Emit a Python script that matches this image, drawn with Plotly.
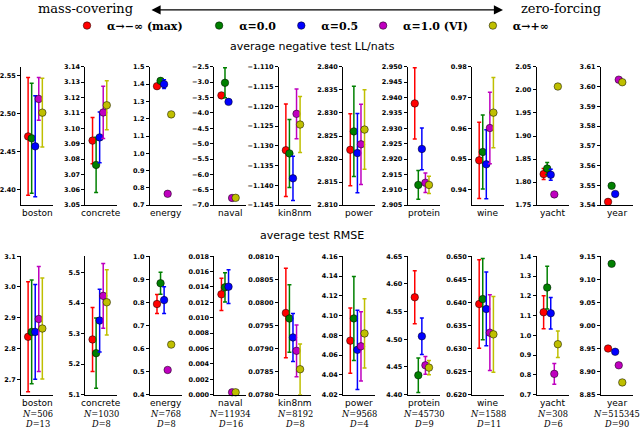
import plotly.graph_objects as go

# dataset info
datasets = ["boston", "concrete", "energy", "naval", "kin8nm",
            "power", "protein", "wine", "yacht", "year"]
n_points = [506, 1030, 768, 11934, 8192, 9568, 45730, 1588, 308, 515345]
d_dims = [13, 8, 8, 16, 8, 4, 9, 11, 6, 90]

series_names = ["α→−∞ (max)\u00a0\u00a0\u00a0", "α=0.0", "α=0.5", "α=1.0 (VI)", "α→+∞"]
colors = ["#ff0000", "#008000", "#0000ff", "#bf00bf", "#bfbf00"]

# average negative test LL (mean, error) per alpha
nll_max = [2.470, 3.092, 1.388, -3.43, -1.1311, 2.8220, 2.9381, 0.9496, 1.8175, 3.5417]
nll_max_err = [0.077, 0.015, 0.01, 0.05, 0.0117, 0.0078, 0.0116, 0.0124, 0.012, 0]
nll_a0 = [2.4675, 3.0762, 1.4187, -3.02, -1.1319, 2.8260, 2.9116, 0.9523, 1.8296, 3.5498]
nll_a0_err = [0.072, 0.018, 0.012, 0.49, 0.0086, 0.0098, 0.0047, 0.012, 0.013, 0]
nll_a05 = [2.457, 3.0941, 1.3996, -3.64, -1.1382, 2.8213, 2.9233, 0.9483, 1.816, 3.5457]
nll_a05_err = [0.066, 0.0165, 0.025, 0.05, 0.0056, 0.0086, 0.0068, 0.0112, 0.012, 0]
nll_a1 = [2.519, 3.1103, 0.766, -6.765, -1.1219, 2.8232, 2.9123, 0.9601, 1.7734, 3.6035]
nll_a1_err = [0.028, 0.017, 0, 0, 0.0063, 0.0087, 0.0032, 0.0116, 0, 0]
nll_ainf = [2.501, 3.115, 1.225, -6.76, -1.1246, 2.8264, 2.9116, 0.9651, 2.0073, 3.6022]
nll_ainf_err = [0.045, 0.016, 0, 0, 0.0071, 0.0086, 0.0028, 0.0114, 0, 0]

# average test RMSE (mean, error) per alpha
rmse_max = [2.838, 5.281, 0.793, 0.01305, 0.07977, 4.0746, 4.5759, 0.63964, 1.1167, 8.950]
rmse_max_err = [0.179, 0.105, 0.041, 0.0021, 0.00097, 0.033, 0.048, 0.0096, 0.083, 0]
rmse_a0 = [2.854, 5.236, 0.883, 0.01396, 0.07965, 4.0971, 4.435, 0.64071, 1.2417, 9.1336]
rmse_a0_err = [0.169, 0.115, 0.048, 0.0019, 0.00073, 0.0425, 0.031, 0.0088, 0.108, 0]
rmse_a05 = [2.854, 5.343, 0.810, 0.01404, 0.07924, 4.0653, 4.5054, 0.63857, 1.1117, 8.9429]
rmse_a05_err = [0.154, 0.103, 0.058, 0.0022, 0.00052, 0.040, 0.033, 0.008, 0.080, 0]
rmse_a1 = [2.896, 5.424, 0.507, 0.0003, 0.07895, 4.0689, 4.453, 0.63343, 0.805, 8.9136]
rmse_a1_err = [0.171, 0.106, 0, 0, 0.00056, 0.035, 0.016, 0.0082, 0.0525, 0]
rmse_ainf = [2.865, 5.403, 0.617, 0.0003, 0.07855, 4.0819, 4.4488, 0.63307, 0.955, 8.8764]
rmse_ainf_err = [0.164, 0.107, 0, 0, 0.00055, 0.035, 0.013, 0.0082, 0.067, 0]

# axis settings
nll_ranges = [[2.38, 2.561], [3.05, 3.14], [0.7, 1.5], [-7.0, -2.5], [-1.145, -1.110],
              [2.810, 2.840], [2.905, 2.950], [0.935, 0.98], [1.75, 2.05], [3.54, 3.61]]
nll_dticks = [0.05, 0.01, 0.1, 0.5, 0.005, 0.005, 0.005, 0.01, 0.05, 0.01]
nll_formats = [".2f", ".2f", ".1f", ".1f", ".3f", ".3f", ".3f", ".2f", ".2f", ".2f"]
rmse_ranges = [[2.65, 3.1], [5.1, 5.554], [0.4, 1.0], [0, 0.018], [0.078, 0.081],
               [4.02, 4.16], [4.40, 4.65], [0.62, 0.65], [0.7, 1.4], [8.85, 9.15]]
rmse_dticks = [0.1, 0.1, 0.1, 0.002, 0.0005, 0.02, 0.05, 0.005, 0.1, 0.05]
rmse_formats = [".1f", ".1f", ".1f", ".3f", ".4f", ".2f", ".2f", ".3f", ".1f", ".2f"]

nll_means = [nll_max, nll_a0, nll_a05, nll_a1, nll_ainf]
nll_errs = [nll_max_err, nll_a0_err, nll_a05_err, nll_a1_err, nll_ainf_err]
rmse_means = [rmse_max, rmse_a0, rmse_a05, rmse_a1, rmse_ainf]
rmse_errs = [rmse_max_err, rmse_a0_err, rmse_a05_err, rmse_a1_err, rmse_ainf_err]

W, H = 640, 432
fig = go.Figure()
layout = {}

rows = [
    (nll_means, nll_errs, nll_ranges, nll_dticks, nll_formats, 64, 205),
    (rmse_means, rmse_errs, rmse_ranges, rmse_dticks, rmse_formats, 257, 398),
]

for r, (means, errs, ranges, dticks, fmts, top, bot) in enumerate(rows):
    for i in range(10):
        n = r * 10 + i + 1
        xname = "x" if n == 1 else f"x{n}"
        yname = "y" if n == 1 else f"y{n}"
        left = 21 + 64.44 * i
        for s in range(5):
            fig.add_trace(go.Scatter(
                x=[s], y=[means[s][i]],
                xaxis=xname, yaxis=yname,
                mode="markers",
                name=series_names[s],
                legendgroup=series_names[s],
                showlegend=(n == 1),
                cliponaxis=False,
                marker=dict(color=colors[s], size=7.5,
                            line=dict(color="black", width=0.5)),
                error_y=dict(type="data", array=[errs[s][i]],
                             visible=errs[s][i] > 0,
                             color=colors[s], thickness=1.5, width=2),
            ))
        span = ranges[i][1] - ranges[i][0]
        layout["xaxis" if n == 1 else f"xaxis{n}"] = dict(
            domain=[left / W, (left + 32) / W], anchor=yname,
            range=[-2, 7], showgrid=False, zeroline=False,
            showticklabels=False, ticks="", showline=True,
            linecolor="black", linewidth=1,
        )
        layout["yaxis" if n == 1 else f"yaxis{n}"] = dict(
            domain=[1 - bot / H, 1 - top / H], anchor=xname,
            range=[ranges[i][0] - span * 1e-6, ranges[i][1] + span * 1e-6],
            dtick=dticks[i], tick0=0, tickformat=fmts[i],
            showgrid=False, zeroline=False, showline=True,
            linecolor="black", linewidth=1, ticks="outside",
            ticklen=3, tickwidth=1, tickcolor="black",
            tickfont=dict(family="DejaVu Sans", size=6.5, color="black",
                          weight="bold"),
        )

annotations = []
# direction arrow and labels
annotations.append(dict(x=503 / W, y=1 - 6 / H, xref="paper", yref="paper",
                        ax=-353, ay=0, axref="pixel", ayref="pixel",
                        text="", showarrow=True, arrowside="end+start",
                        arrowhead=2, arrowsize=1.3, arrowwidth=1.4,
                        arrowcolor="black"))
annotations.append(dict(x=135 / W, y=1 - 5 / H, xref="paper", yref="paper",
                        text="mass-covering", showarrow=False,
                        xanchor="right", yanchor="middle",
                        font=dict(family="DejaVu Serif", size=13, color="black")))
annotations.append(dict(x=519 / W, y=1 - 5 / H, xref="paper", yref="paper",
                        text="zero-forcing", showarrow=False,
                        xanchor="left", yanchor="middle",
                        font=dict(family="DejaVu Serif", size=13, color="black")))
# row titles
for txt, yy in [("average negative test LL/nats", 43), ("average test RMSE", 236)]:
    annotations.append(dict(x=312 / W, y=1 - yy / H, xref="paper", yref="paper",
                            text=txt, showarrow=False, xanchor="center",
                            yanchor="middle",
                            font=dict(family="DejaVu Sans", size=11, color="black")))
# dataset labels
for i in range(10):
    cx = (21 + 64.44 * i + 16) / W
    for yy in (213, 407):
        annotations.append(dict(x=cx, y=1 - yy / H, xref="paper", yref="paper",
                                text=datasets[i], showarrow=False,
                                xanchor="center", yanchor="middle",
                                font=dict(family="DejaVu Sans", size=9, color="black")))
    annotations.append(dict(x=cx, y=1 - 418 / H, xref="paper", yref="paper",
                            text=f"<i>N</i>={n_points[i]}", showarrow=False,
                            xanchor="center", yanchor="middle",
                            font=dict(family="DejaVu Serif", size=8.3, color="black")))
    annotations.append(dict(x=cx, y=1 - 428 / H, xref="paper", yref="paper",
                            text=f"<i>D</i>={d_dims[i]}", showarrow=False,
                            xanchor="center", yanchor="middle",
                            font=dict(family="DejaVu Serif", size=8.3, color="black")))

fig.update_layout(
    width=W, height=H,
    margin=dict(l=0, r=0, t=0, b=0),
    paper_bgcolor="white", plot_bgcolor="white",
    font=dict(family="DejaVu Sans", color="black"),
    showlegend=True,
    legend=dict(orientation="h", x=67 / W, y=1 - 22 / H,
                xanchor="left", yanchor="middle",
                bgcolor="rgba(0,0,0,0)",
                font=dict(family="DejaVu Serif", size=11, color="black",
                          weight="bold")),
    annotations=annotations,
    **layout,
)

# page body has a default margin; remove it so the figure sits at 0,0
fig.write_html("out.html", config={"displayModeBar": False},
               post_script="document.body.style.margin='0';")
